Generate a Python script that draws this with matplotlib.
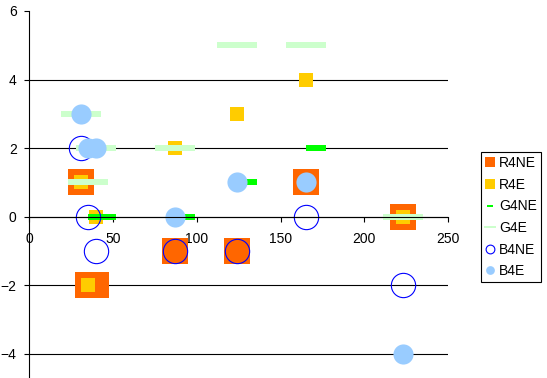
import matplotlib
matplotlib.use("Agg")
import matplotlib.pyplot as plt
from matplotlib.lines import Line2D

plt.rcParams['font.family'] = ['Liberation Sans', 'DejaVu Sans']

# series data
r4ne_x = [31, 165, 223, 87, 124, 35, 40]
r4ne_y = [1, 1, 0, -1, -1, -2, -2]

r4e_x = [165, 124, 87, 31, 40, 223, 35]
r4e_y = [4, 3, 2, 1, 0, 0, -2]

g4ne_x = [171, 130, 41, 46, 93]
g4ne_y = [2, 1, 0, 0, 0]

g4e_x = [124, 165, 31, 40, 87, 35, 223]
g4e_y = [5, 5, 3, 2, 2, 1, 0]

b4ne_x = [31, 35, 165, 40, 87, 124, 223]
b4ne_y = [2, 0, 0, -1, -1, -1, -2]

b4e_x = [31, 35, 40, 124, 165, 87, 223]
b4e_y = [3, 2, 2, 1, 1, 0, -4]

labels = ['R4NE', 'R4E', 'G4NE', 'G4E', 'B4NE', 'B4E']

dash_short = [(-3, -1), (3, -1), (3, 1), (-3, 1)]
dash_long = [(-6, -1), (6, -1), (6, 1), (-6, 1)]

fig = plt.figure(figsize=(5.47, 3.78), dpi=100)
ax = fig.add_axes([0.0536, 0.003, 0.7654, 0.968])

ax.plot(r4ne_x, r4ne_y, ls='none', marker='s', ms=18.5, mfc='#FF6600', mec='#FF6600', mew=0)
ax.plot(r4e_x, r4e_y, ls='none', marker='s', ms=10, mfc='#FFCC00', mec='#FFCC00', mew=0)
ax.plot(g4ne_x, g4ne_y, ls='none', marker=dash_short, ms=15, mfc='#00FF00', mec='#00FF00', mew=0)
ax.plot(g4e_x, g4e_y, ls='none', marker=dash_long, ms=29.5, mfc='#CCFFCC', mec='#CCFFCC', mew=0)
ax.plot(b4ne_x, b4ne_y, ls='none', marker='o', ms=17.5, mfc='none', mec='#0000FF', mew=0.8)
ax.plot(b4e_x, b4e_y, ls='none', marker='o', ms=14.5, mfc='#99CCFF', mec='#99CCFF', mew=0)

ax.set_xlim(0, 250)
ax.set_ylim(-4.67, 6)
ax.set_xticks(range(0, 251, 50))
ax.set_yticks(range(-4, 7, 2))

for s in ['top', 'right']:
    ax.spines[s].set_visible(False)
ax.spines['bottom'].set_position(('data', 0))
ax.spines['bottom'].set_linewidth(0.8)
ax.spines['left'].set_linewidth(0.8)
ax.tick_params(direction='out', length=3.6, width=0.8, labelsize=10)
ax.tick_params(axis='x', pad=7.5)
ax.tick_params(axis='y', pad=5.5)

ax.yaxis.grid(True, color='black', lw=0.8)
ax.get_ygridlines()[-1].set_visible(False)
ax.set_axisbelow(True)

handles = [
    Line2D([], [], ls='none', marker='s', ms=6.5, mfc='#FF6600', mec='#FF6600', mew=0),
    Line2D([], [], ls='none', marker='s', ms=6.5, mfc='#FFCC00', mec='#FFCC00', mew=0),
    Line2D([], [], ls='none', marker=dash_short, ms=5, mfc='#00FF00', mec='#00FF00', mew=0),
    Line2D([], [], ls='none', marker=dash_long, ms=8.5, mfc='#CCFFCC', mec='#CCFFCC', mew=0),
    Line2D([], [], ls='none', marker='o', ms=6.3, mfc='none', mec='#0000FF', mew=0.8),
    Line2D([], [], ls='none', marker='o', ms=6.3, mfc='#99CCFF', mec='#99CCFF', mew=0),
]
leg = fig.legend(handles, labels, loc='upper left', bbox_to_anchor=(0.879, 0.598),
                 fontsize=10, frameon=True, fancybox=False, framealpha=1,
                 edgecolor='black', handlelength=0.72, handletextpad=0.3,
                 labelspacing=0.55, borderpad=0.3, borderaxespad=0)
leg.get_frame().set_linewidth(0.8)

fig.savefig('out.png', dpi=100)
